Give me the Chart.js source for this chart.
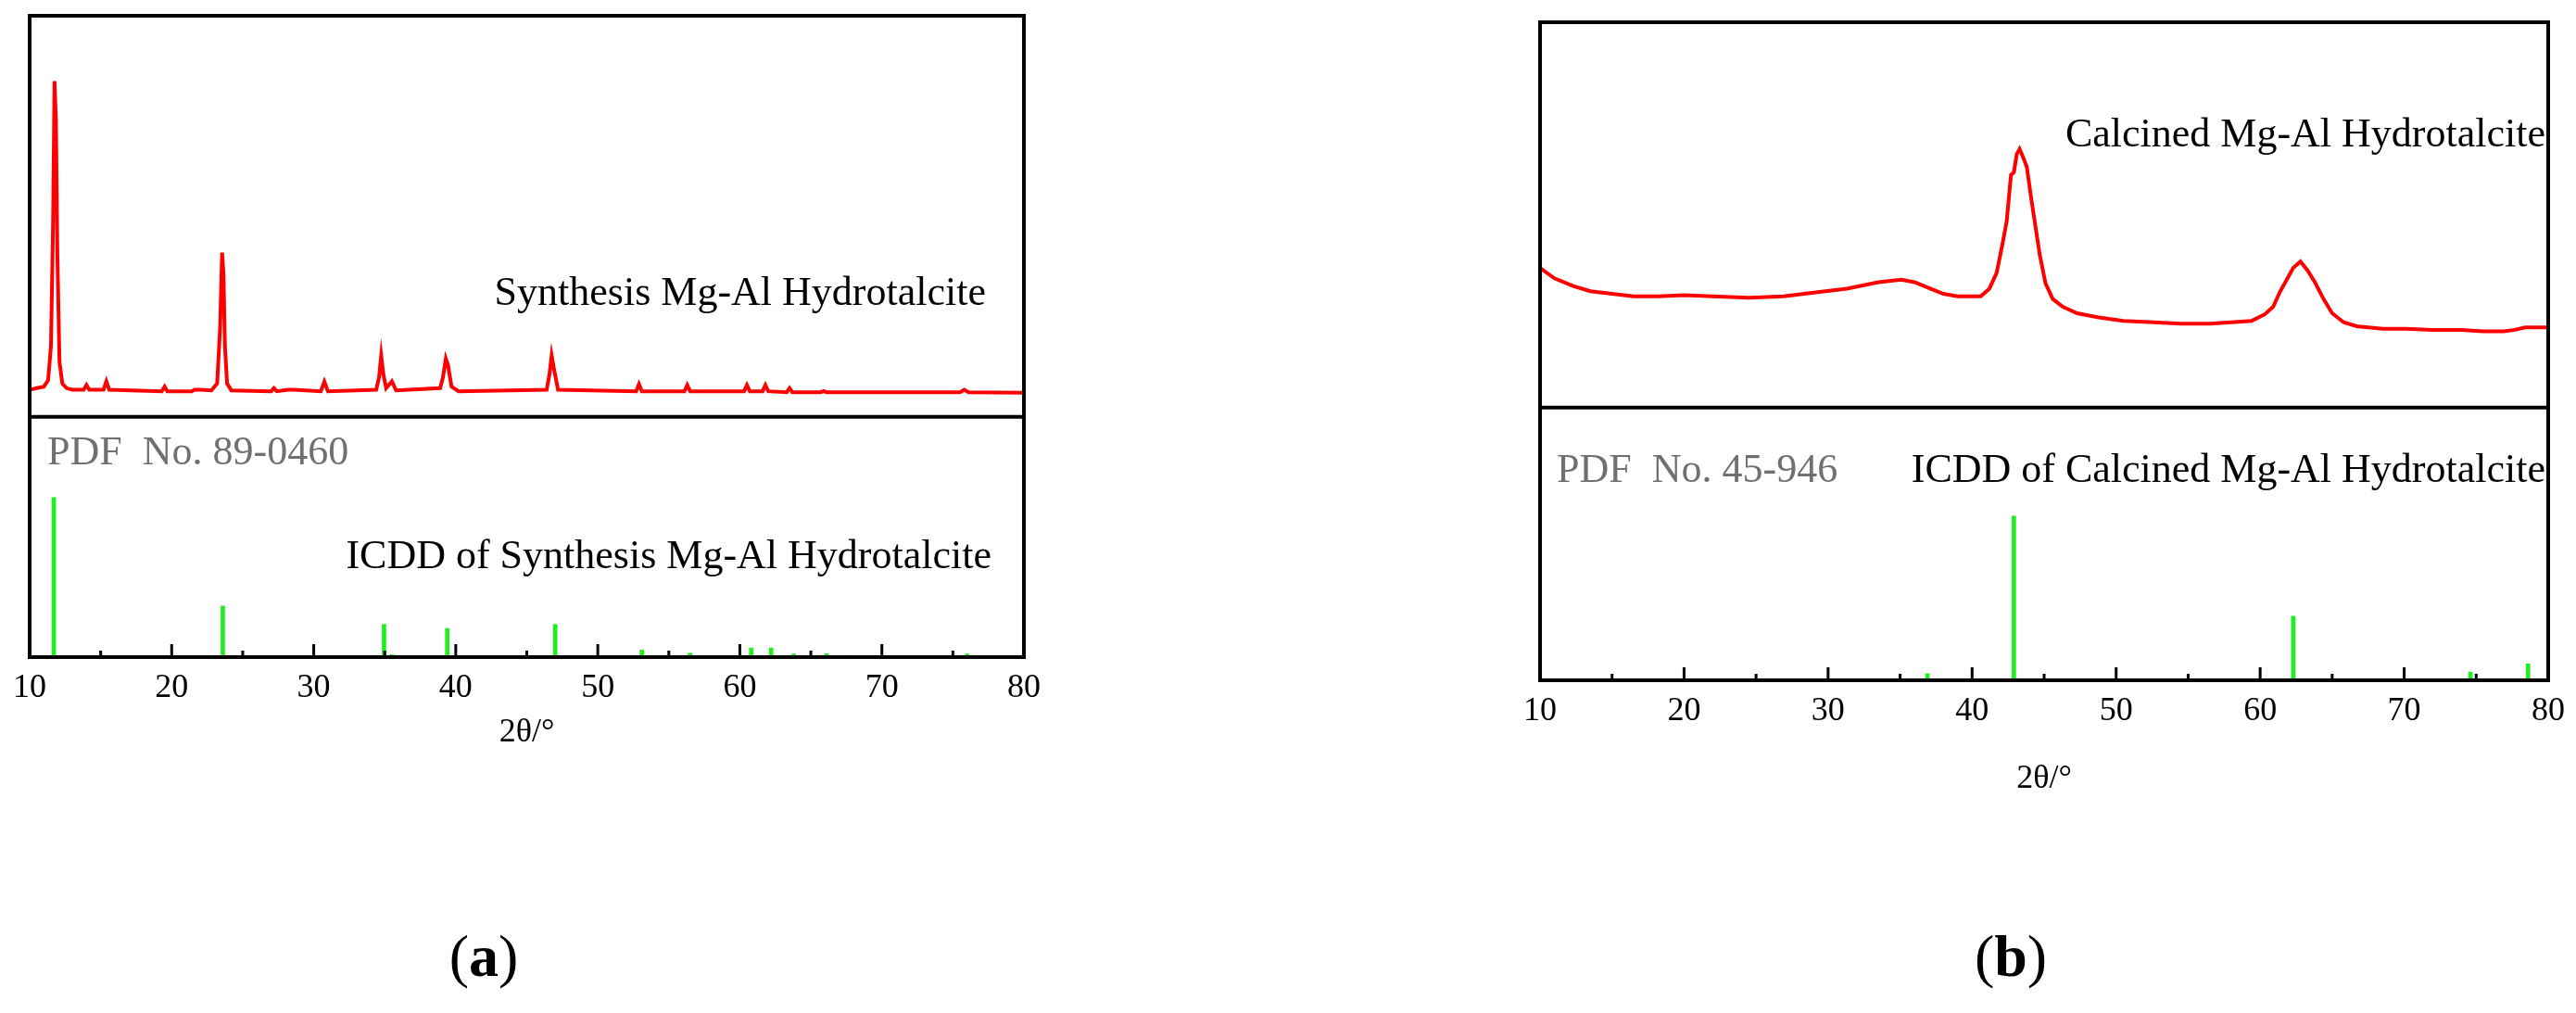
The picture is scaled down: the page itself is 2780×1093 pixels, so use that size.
<!DOCTYPE html>
<html>
<head>
<meta charset="utf-8">
<script src="https://cdn.jsdelivr.net/npm/chart.js"></script>
<style>
  body { margin: 0; background: #fff; width: 2780px; height: 1093px; position: relative; overflow: hidden; }
  .wrap { position: absolute; top: 0; width: 1390px; height: 1093px; }
  .cap { position: absolute; top: 995px; font: 64px 'Liberation Serif', serif; transform: translateX(-50%); }
</style>
</head>
<body>
<div class="wrap" style="left:0"><canvas id="chartA" width="1390" height="1093"></canvas></div>
<div class="wrap" style="left:1390px"><canvas id="chartB" width="1390" height="1093"></canvas></div>
<div class="cap" style="left:522px">(<b>a</b>)</div>
<div class="cap" style="left:2170px">(<b>b</b>)</div>
<script>
// ── DATA ──────────────────────────────────────────────
// (a) synthesis hydrotalcite: XRD pattern [2θ, intensity %]
const xrdA = [
  [10,1],[10.5,1.5],[11,2],[11.3,4],[11.5,15],[11.65,55],[11.75,100],[11.85,88],[11.95,45],[12.1,10],
  [12.3,3],[12.6,1.5],[13,1],[13.8,1],[14,2.5],[14.2,1],[15.2,1],[15.4,3.7],[15.6,1],[19.3,0.5],
  [19.5,2],[19.7,0.5],[21.4,0.5],[21.6,1],[22,1],[22.8,0.8],[23.2,3],[23.4,20],[23.55,45],[23.65,38],
  [23.75,15],[23.9,3],[24.2,0.8],[27,0.5],[27.2,1.5],[27.4,0.5],[28.2,1],[28.6,1],[30.5,0.5],[30.75,3.6],
  [31,0.5],[34.4,1],[34.6,5],[34.75,12],[34.9,6],[35.1,1.5],[35.5,3.7],[35.8,0.8],[38.9,1.5],[39.1,5],
  [39.3,11],[39.45,9],[39.7,2],[40.2,0.5],[46.4,1],[46.6,6],[46.75,12],[46.9,8],[47.2,1],[52.7,0.5],
  [52.9,2.8],[53.1,0.5],[56.1,0.5],[56.3,2.5],[56.5,0.5],[60.3,0.5],[60.5,2.5],[60.7,0.5],[61.6,0.5],
  [61.8,2.5],[62,0.5],[63.3,0.2],[63.5,1.5],[63.7,0.2],[65.7,0.2],[65.9,0.6],[66.1,0.2],[75.5,0.2],
  [75.8,1],[76.1,0.2],[80,0]
];
// (a) ICDD PDF 89-0460 reference lines
const pdfA_pos = [11.7, 23.6, 34.3, 34.95, 35.5, 37.5, 39.4, 44.3, 47, 47.7, 53.1, 56.5, 60.8, 62.2, 63.8, 66.1, 67.6, 72, 73, 76, 78.2];
const pdfA_int = [100, 32, 1, 20.5, 1.5, 0.8, 18, 0.5, 20.5, 1, 4.4, 2.5, 5.7, 5.7, 2, 2.2, 1, 0.5, 0.5, 2, 0.8];

// (b) calcined hydrotalcite: XRD pattern [2θ, intensity %]
const xrdB = [
  [10,54],[11,50],[12.3,47],[13.5,45],[15,44],[16.5,43],[18.2,43],[20,43.5],[22,43],[24.5,42.5],
  [26.9,43],[29,44.5],[31.3,46],[33.5,48.5],[35.1,49.5],[36,48.5],[37.1,46],[38,44],[39,43],[40.6,43],
  [41.2,46],[41.7,52],[42.1,63],[42.4,72],[42.7,90],[42.9,91],[43.1,98],[43.3,100],[43.6,96],[43.8,93],
  [44.1,81],[44.4,70],[44.7,59],[45.1,48],[45.6,42],[46.3,39],[47.3,36.5],[48.7,35],[50.5,33.5],[52.6,33],
  [54.5,32.5],[56.5,32.5],[58,33],[59.4,33.5],[60.3,36],[60.9,39],[61.4,45],[61.8,49],[62.3,54],[62.8,56.5],
  [63.3,53],[63.8,48.5],[64.4,42],[65,36.5],[65.8,33],[66.7,31.5],[68.5,30.5],[70.1,30.5],[72,30],[74,30],
  [75.5,29.5],[76.9,29.5],[77.6,30],[78.4,31],[80,31]
];
// (b) ICDD PDF 45-946 reference lines
const pdfB_pos = [36.9, 42.9, 62.3, 74.6, 78.6];
const pdfB_int = [4, 100, 39, 5, 10];

// x-axis ticks (labels every 10, minor every 5)
const xTicks = [10, 20, 30, 40, 50, 60, 70, 80];

// ── DRAWING ───────────────────────────────────────────
const FONT = "'Liberation Serif', serif";

function panel(id, cfg) {
  const toXY = (a, b) => a.map((x, i) => ({ x: x, y: b[i] }));
  const framePlugin = {
    id: 'frame',
    afterDraw(chart) {
      const { ctx, chartArea: a, scales } = chart;
      const yDiv = scales.yx.getPixelForValue(cfg.divider);
      ctx.save();
      ctx.strokeStyle = '#000';
      ctx.lineWidth = 4;
      ctx.strokeRect(a.left, a.top, a.right - a.left, a.bottom - a.top);
      ctx.beginPath();
      ctx.moveTo(a.left, yDiv); ctx.lineTo(a.right, yDiv);
      ctx.stroke();
      // inward ticks on the bottom axis
      ctx.lineWidth = 3;
      scales.x.ticks.forEach(t => {
        const px = scales.x.getPixelForValue(t.value);
        const len = xTicks.includes(t.value) ? 14 : 7;
        ctx.beginPath(); ctx.moveTo(px, a.bottom); ctx.lineTo(px, a.bottom - len); ctx.stroke();
      });
      // panel labels
      ctx.font = '44px ' + FONT;
      ctx.textBaseline = 'alphabetic';
      cfg.texts.forEach(t => {
        ctx.fillStyle = t.color || '#000';
        ctx.textAlign = t.align;
        ctx.fillText(t.text, t.x, t.y);
      });
      // x axis title
      ctx.fillStyle = '#000';
      ctx.textAlign = 'center';
      ctx.font = '36px ' + FONT;
      ctx.fillText('2θ/°', (a.left + a.right) / 2, cfg.titleY);
      ctx.restore();
    }
  };

  new Chart(document.getElementById(id), {
    data: {
      datasets: [
        {
          type: 'line', yAxisID: 'yx',
          data: cfg.xrd.map(p => ({ x: p[0], y: p[1] })),
          borderColor: '#ff0000', borderWidth: 4, pointRadius: 0, tension: 0
        },
        {
          type: 'bar', yAxisID: 'yb',
          data: toXY(cfg.pos, cfg.int),
          backgroundColor: '#1fee1f', barThickness: 4, grouped: false
        }
      ]
    },
    options: {
      responsive: false,
      animation: false,
      layout: { padding: cfg.padding },
      plugins: { legend: { display: false }, tooltip: { enabled: false } },
      scales: {
        x: {
          type: 'linear', min: 10, max: 80, offset: false,
          afterFit: s => { s.height = cfg.axisHeight; },
          grid: { display: false, drawTicks: false },
          border: { display: false },
          ticks: {
            stepSize: 5, padding: 12, color: '#000', maxRotation: 0,
            font: { family: FONT, size: 36 },
            callback: v => (xTicks.includes(v) ? v : '')
          }
        },
        yx: { display: false, min: cfg.yxRange[0], max: cfg.yxRange[1] },
        yb: { display: false, min: 0, max: cfg.ybMax }
      }
    },
    plugins: [framePlugin]
  });
}

panel('chartA', {
  xrd: xrdA, pos: pdfA_pos, int: pdfA_int,
  padding: { left: 32, right: 285, top: 17, bottom: 0 },
  axisHeight: 384,
  yxRange: [-84.8, 121], divider: -7.7, ybMax: 402,
  titleY: 800,
  texts: [
    { text: 'Synthesis Mg-Al Hydrotalcite', x: 1064, y: 329, align: 'right' },
    { text: 'PDF  No. 89-0460', x: 51, y: 501, align: 'left', color: '#707070' },
    { text: 'ICDD of Synthesis Mg-Al Hydrotalcite', x: 1070, y: 613, align: 'right' }
  ]
});

panel('chartB', {
  xrd: xrdB, pos: pdfB_pos, int: pdfB_int,
  padding: { left: 272, right: 20, top: 24, bottom: 0 },
  axisHeight: 359,
  yxRange: [-105.4, 149], divider: 0, ybMax: 401,
  titleY: 850,
  texts: [
    { text: 'Calcined Mg-Al Hydrotalcite', x: 1357, y: 158, align: 'right' },
    { text: 'PDF  No. 45-946', x: 290, y: 520, align: 'left', color: '#707070' },
    { text: 'ICDD of Calcined Mg-Al Hydrotalcite', x: 1357, y: 520, align: 'right' }
  ]
});
</script>
</body>
</html>
